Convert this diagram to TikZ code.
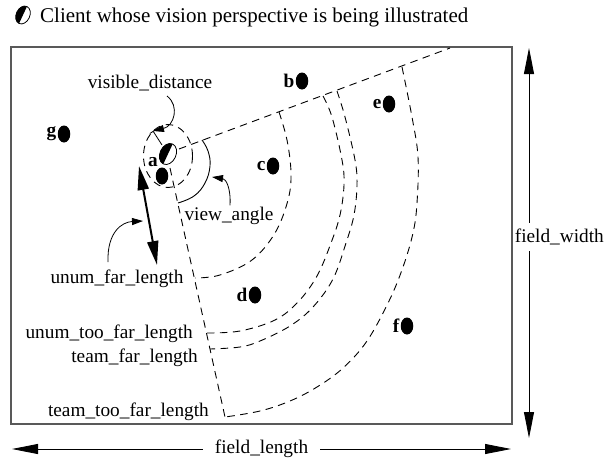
\documentclass[tikz,border=0pt]{standalone}
\usepackage{fontspec}
\setmainfont{Liberation Serif}
\usetikzlibrary{positioning,shapes.geometric,arrows.meta}

\begin{document}
\fontsize{19.3pt}{23pt}\selectfont
\begin{tikzpicture}[x=1pt,y=-1pt,
	player node/.style = {ellipse,fill,inner sep=0pt,minimum width=12.5pt,minimum height=17pt},
	tag node/.style = {font=\bfseries,inner sep=0.5pt},
	text node/.style = {inner sep=0pt},
	range line/.style = {dash pattern=on 7.5pt off 5.5pt,line width=0.9pt},
	field arrow/.style = {{Triangle[length=26pt,width=10pt]}-{Triangle[length=26pt,width=10pt]},line width=0.8pt},
	far arrow/.style = {{Triangle[length=24pt,width=11pt]}-{Triangle[length=24pt,width=11pt]},line width=2pt},
	note arrow/.style = {-{Triangle[length=11pt,width=7pt]},line width=0.8pt},
	client/.pic = {
		\draw[line width=0.8pt,fill=white] (0,0) ellipse [x radius=8pt,y radius=11pt];
		\fill (0pt,11pt) arc [start angle=90,end angle=270,x radius=8pt,y radius=11pt] -- cycle;
	}]

	\useasboundingbox (0,0) rectangle (604,461);

	% legend
	\pic[rotate=-25,scale=0.85] at (23,15) {client};
	\node[text node,anchor=base west,font=\fontsize{21pt}{25pt}\selectfont] (legend) at (40,22) {Client whose vision perspective is being illustrated};

	% field
	\draw[black!65,line width=1.3pt] (11,47) rectangle (512,424);

	% players
	\node[player node] (g) at (64,134) {};
	\node[player node] (b) at (302,81) {};
	\node[player node] (e) at (389,104) {};
	\node[player node] (c) at (273,166) {};
	\node[player node] (d) at (255,295) {};
	\node[player node] (f) at (407,326) {};
	\node[player node] (a) at (162,176) {};
	\node[tag node,left=0.5pt of g] (tg) {g};
	\node[tag node,left=0.5pt of b] (tb) {b};
	\node[tag node,left=0.5pt of e] (te) {e};
	\node[tag node,left=0.5pt of c] (tc) {c};
	\node[tag node,left=0.5pt of d] (td) {d};
	\node[tag node,left=0.5pt of f] (tf) {f};
	\node[tag node] (ta) at (153,162) {a};

	% the client and its view cone
	\coordinate (cl) at (168,154);
	\coordinate (u0) at (179,149);
	\coordinate (u1) at (450,48);
	\coordinate (l0) at (170,168);
	\coordinate (l1) at (225,417);
	\draw[range line] (u0) -- (u1);
	\draw[range line] (l0) -- (l1);
	\draw[range line] (168,156) ellipse [x radius=24.5,y radius=31.5];
	\pic[rotate=-25] at (cl) {client};
	\coordinate (vd) at (153,131);
	\draw[line width=0.8pt,-{Bar[width=8pt]}] (162,145) -- (vd);

	% ranges
	\draw[range line] plot[smooth,tension=0.6] coordinates {(279,112) (287,140) (291,173) (288,200) (275,233) (252,260) (220,275) (195,278)};
	\draw[range line] plot[smooth,tension=0.6] coordinates {(323,96) (332,117) (342,160) (344,185) (340,215) (331,243) (317,276) (298,302) (275,320) (240,331) (207,333)};
	\draw[range line] plot[smooth,tension=0.6] coordinates {(337,91) (345,117) (355,160) (357,185) (354,215) (346,243) (333,279) (313,307) (290,326) (260,341) (240,347) (210,349)};
	\draw[range line] plot[smooth,tension=0.6] coordinates {(402,67) (412,117) (418,157) (417,203) (413,233) (403,267) (389,301) (367,341) (343,368) (317,387) (290,401) (260,411) (225,417)};

	% view angle
	\draw[line width=0.9pt] plot[smooth,tension=0.7] coordinates {(202,140) (208,151) (210,166) (205,183) (194,196) (178,203)};

	% labels
	\node[text node,anchor=base] (vdl) at (150,88) {visible\_distance};
	\node[text node,anchor=base] (val) at (229,220) {view\_angle};
	\node[text node,anchor=base] (ufl) at (117,283) {unum\_far\_length};
	\node[text node,anchor=base east] (utl) at (193,338) {unum\_too\_far\_length};
	\node[text node,anchor=base east] (tfl) at (198,362) {team\_far\_length};
	\node[text node,anchor=base east] (ttl) at (209,416) {team\_too\_far\_length};

	\draw[note arrow] (167,96) .. controls (180,106) and (174,126) .. (vd);
	\draw[note arrow] (val.north) ++(1,-1) .. controls (231,188) and (226,179) .. (212,177);
	\coordinate (uf0) at (139,166);
	\coordinate (uf1) at (157,265);
	\draw[far arrow] (uf0) -- (uf1);
	\draw[note arrow] (108,262) .. controls (107,232) and (122,222) .. (143,221);

	% field size
	\coordinate (fl0) at (12,449);
	\coordinate (fl1) at (511,449);
	\coordinate (fw0) at (529,48);
	\coordinate (fw1) at (529,438);
	\draw[field arrow] (fl0) -- (fl1) node[midway,fill=white,inner xsep=12pt,inner ysep=2pt] {field\_length};
	\draw[field arrow] (fw0) -- (fw1);
	\node[fill=white,anchor=east,inner xsep=0pt,inner ysep=6pt] (fwl) at (604,237) {field\_width};
\end{tikzpicture}
\end{document}
